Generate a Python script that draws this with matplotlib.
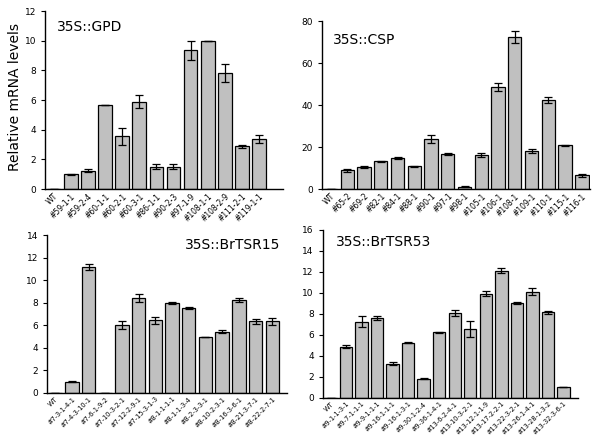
import matplotlib
matplotlib.use('Agg')
import matplotlib.pyplot as plt

# 35S::GPD
gpd_lines = ['WT', '#59-1-1', '#59-2-4', '#60-1-1', '#60-2-1', '#60-3-1', '#86-1-1',
             '#90-2-3', '#97-1-9', '#108-1-1', '#108-2-9', '#111-2-1', '#119-1-1']
gpd_vals = [0, 1.0, 1.25, 5.7, 3.55, 5.9, 1.52, 1.52, 9.35, 10.0, 7.85, 2.88, 3.4]
gpd_err = [0, 0.03, 0.07, 0, 0.6, 0.45, 0.15, 0.15, 0.65, 0, 0.6, 0.1, 0.28]

# 35S::CSP
csp_lines = ['WT', '#65-2', '#69-2', '#82-1', '#84-1', '#88-1', '#90-1', '#97-1', '#98-1',
             '#105-1', '#106-1', '#108-1', '#109-1', '#110-1', '#115-1', '#116-1']
csp_vals = [0, 9.0, 10.5, 13.2, 14.8, 10.8, 23.8, 16.8, 1.2, 16.2, 48.5, 72.5, 18.0, 42.3, 20.8, 6.5]
csp_err = [0, 0.7, 0.7, 0.3, 0.4, 0.3, 2.0, 0.4, 0.2, 1.0, 2.0, 3.0, 1.0, 1.5, 0.3, 0.6]

# 35S::BrTSR15
tsr15_lines = ['WT', '#7-3-1-4-1', '#7-4-3-10-1', '#7-6-1-9-2', '#7-10-3-2-1', '#7-12-2-9-1',
               '#7-15-3-1-3', '#8-1-1-1-1', '#8-1-1-3-4', '#8-2-3-3-1', '#8-10-2-3-1',
               '#8-16-3-6-1', '#8-21-3-7-1', '#8-22-2-7-1']
tsr15_vals = [0, 1.0, 11.2, 0, 6.0, 8.45, 6.45, 8.0, 7.55, 5.0, 5.45, 8.25, 6.35, 6.35]
tsr15_err = [0, 0.05, 0.25, 0, 0.35, 0.35, 0.3, 0.1, 0.1, 0, 0.1, 0.2, 0.2, 0.3]

# 35S::BrTSR53
tsr53_lines = ['WT', '#9-1-1-3-1', '#9-7-1-1-1', '#9-9-1-1-1', '#9-16-1-1-1', '#9-16-1-3-1',
               '#9-30-1-2-4', '#9-36-1-4-1', '#13-6-2-4-1', '#13-10-3-2-1', '#13-12-1-1-9',
               '#13-17-2-2-1', '#13-22-3-2-1', '#13-26-1-4-1', '#13-28-1-3-2', '#13-32-3-6-1']
tsr53_vals = [0, 4.85, 7.25, 7.6, 3.25, 5.25, 1.8, 6.25, 8.1, 6.55, 9.9, 12.1, 9.05, 10.1, 8.15, 1.0]
tsr53_err = [0, 0.15, 0.55, 0.2, 0.15, 0.05, 0.05, 0.05, 0.3, 0.75, 0.25, 0.25, 0.1, 0.35, 0.15, 0]


def panel(fig, rect, labels, vals, errs, title, tpos, ymax, ystep, xright, xlsize):
    ax = fig.add_axes(rect)
    x = range(len(labels))
    ax.bar(x, vals, width=0.8, color='#c0c0c0', edgecolor='black', linewidth=0.9,
           yerr=errs, error_kw=dict(ecolor='black', elinewidth=0.9, capsize=3, capthick=0.9))
    ax.set_xlim(-0.5, xright)
    ax.set_ylim(0, ymax)
    ax.set_yticks(range(0, ymax + 1, ystep))
    ax.set_xticks(list(x))
    ax.set_xticklabels(labels, rotation=45, ha='right', rotation_mode='anchor', fontsize=xlsize)
    for pos in ['top', 'right']:
        ax.spines[pos].set_visible(False)
    for pos in ['left', 'bottom']:
        ax.spines[pos].set_linewidth(1.0)
    ax.tick_params(axis='y', labelsize=6.5, length=3, width=0.8, direction='out')
    ax.tick_params(axis='x', length=0, pad=2)
    ax.text(tpos[0], tpos[1], title, transform=ax.transAxes, fontsize=10, ha='left', va='center')
    return ax


fig = plt.figure(figsize=(6.01, 4.48), dpi=100, facecolor='w')

ax1 = panel(fig, [0.075, 0.578, 0.396, 0.397], gpd_lines, gpd_vals, gpd_err,
            '35S::GPD', (0.05, 0.91), 12, 2, 13.4, 5.5)
ax1.set_ylabel('Relative mRNA levels', fontsize=10)
ax1.yaxis.set_label_coords(-0.095, 0.52)

panel(fig, [0.536, 0.578, 0.446, 0.375], csp_lines, csp_vals, csp_err,
      '35S::CSP', (0.04, 0.89), 80, 20, 15.5, 5.5)

panel(fig, [0.078, 0.123, 0.400, 0.352], tsr15_lines, tsr15_vals, tsr15_err,
      '35S::BrTSR15', (0.575, 0.94), 14, 2, 13.9, 4.8)

panel(fig, [0.537, 0.112, 0.425, 0.375], tsr53_lines, tsr53_vals, tsr53_err,
      '35S::BrTSR53', (0.05, 0.93), 16, 2, 15.95, 4.8)

fig.savefig('out.png', dpi=100)
